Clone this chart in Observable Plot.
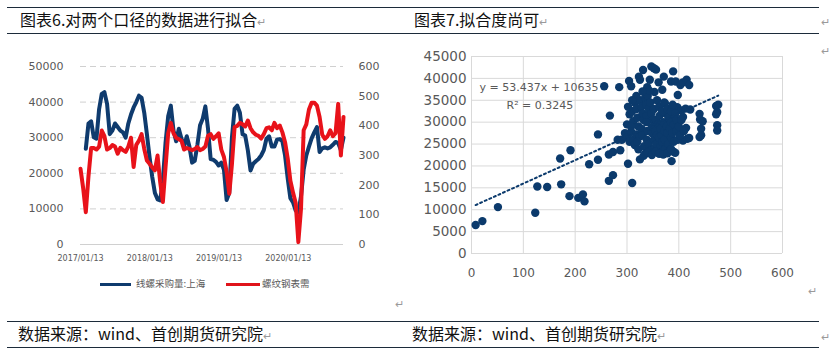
<!DOCTYPE html>
<html><head><meta charset="utf-8">
<script src="https://cdn.jsdelivr.net/npm/d3@7"></script>
<script src="https://cdn.jsdelivr.net/npm/@observablehq/plot@0.6"></script>
<style>
html,body{margin:0;padding:0;background:#fff;}
#page{position:relative;width:832px;height:352px;overflow:hidden;font-family:"Noto Sans CJK SC",sans-serif;}
.hline{position:absolute;height:0;border-top:1.5px solid #1c2b3a;}
.title{position:absolute;font-size:16px;color:#111;white-space:nowrap;line-height:1;}
.pm{color:#9a9a9a;font-size:11px;}
.abs{position:absolute;}
.leg{position:absolute;font-size:9.5px;color:#595959;white-space:nowrap;line-height:1;}
.legline{position:absolute;height:3px;}
</style></head>
<body><div id="page">
<div class="hline" style="left:7px;top:7px;width:812px"></div>
<div class="hline" style="left:7px;top:33px;width:812px"></div>
<div class="title" style="left:20px;top:11px">图表6.对两个口径的数据进行拟合<span class="pm">↵</span></div>
<div class="title" style="left:414px;top:11px">图表7.拟合度尚可<span class="pm">↵</span></div>
<div class="abs pm" style="left:821px;top:13px">↵</div>
<div class="abs pm" style="left:821px;top:42px">↵</div>
<div id="left" class="abs" style="left:0;top:50px"></div>
<div id="right" class="abs" style="left:416px;top:40px"></div>
<div class="legline" style="left:100px;top:283px;width:31px;background:#0f3b6e"></div>
<div class="leg" style="left:136px;top:279px">线螺采购量:上海</div>
<div class="legline" style="left:226px;top:283px;width:34px;background:#e0141b"></div>
<div class="leg" style="left:262px;top:279px">螺纹钢表需</div>
<div class="abs pm" style="left:395px;top:295px">↵</div>
<div class="abs pm" style="left:808px;top:282px">↵</div>
<div class="hline" style="left:7px;top:321px;width:812px"></div>
<div class="hline" style="left:7px;top:347px;width:812px"></div>
<div class="title" style="left:18px;top:325px">数据来源：wind、首创期货研究院<span class="pm">↵</span></div>
<div class="title" style="left:412px;top:325px">数据来源：wind、首创期货研究院<span class="pm">↵</span></div>
<div class="abs pm" style="left:821px;top:328px">↵</div>
</div>
<script>
// ---------- Left chart data ----------
const dates = [
"2017-01-13","2017-01-27","2017-02-10","2017-02-24","2017-03-10","2017-03-24","2017-04-07","2017-04-21","2017-05-05","2017-05-19",
"2017-06-02","2017-06-16","2017-06-30","2017-07-14","2017-07-28","2017-08-11","2017-08-25","2017-09-08","2017-09-22","2017-10-06",
"2017-10-20","2017-11-03","2017-11-17","2017-12-01","2017-12-15","2017-12-29","2018-01-12","2018-01-26","2018-02-09","2018-02-23",
"2018-03-09","2018-03-23","2018-04-06","2018-04-20","2018-05-04","2018-05-18","2018-06-01","2018-06-15","2018-06-29","2018-07-13",
"2018-07-27","2018-08-10","2018-08-24","2018-09-07","2018-09-21","2018-10-05","2018-10-19","2018-11-02","2018-11-16","2018-11-30",
"2018-12-14","2018-12-28","2019-01-11","2019-01-25","2019-02-08","2019-02-22","2019-03-08","2019-03-22","2019-04-05","2019-04-19",
"2019-05-03","2019-05-17","2019-05-31","2019-06-14","2019-06-28","2019-07-12","2019-07-26","2019-08-09","2019-08-23","2019-09-06",
"2019-09-20","2019-10-04","2019-10-18","2019-11-01","2019-11-15","2019-11-29","2019-12-13","2019-12-27","2020-01-10","2020-01-24",
"2020-02-07","2020-02-21","2020-03-06","2020-03-20","2020-04-03","2020-04-17","2020-05-01","2020-05-15","2020-05-29","2020-06-12",
"2020-06-26","2020-07-10","2020-07-24","2020-08-07","2020-08-21","2020-09-04","2020-09-18","2020-10-02","2020-10-16","2020-10-30"];
// 线螺采购量:上海 (left axis)
const wirePurchase = [
null,null,26900,34000,34600,30100,29700,38000,42300,42800,
39500,31000,32000,34000,33000,32000,31500,30000,34000,36500,
38500,40000,41800,41200,37000,31000,24500,19000,14500,12700,
12400,18000,28500,36000,39000,32000,29000,32500,29800,27500,
30400,27500,23000,23500,28000,33500,35300,38800,32500,24000,
23800,23200,22200,23000,21000,12500,14500,30100,38100,39000,
37000,31000,30600,26400,20800,22700,23400,24000,25000,26500,
29700,30400,27500,27500,29500,29600,29000,25000,18500,13000,
11800,9500,9000,13500,21000,25000,27500,29800,31500,33000,
26000,27000,27300,27000,27300,28000,28800,28500,26500,30000];
// 螺纹钢表需 (right axis)
const rebarDemand = [
255,190,109,230,325,325,320,330,384,365,
320,325,335,330,306,326,318,312,330,360,
261,336,350,372,322,283,272,260,250,300,
210,143,260,375,410,375,360,355,350,320,
325,322,318,322,328,318,322,330,367,372,
356,365,375,320,295,245,171,270,396,400,
410,405,398,418,392,378,370,366,357,372,
392,395,385,410,392,401,378,345,290,215,
175,140,8,120,385,405,455,478,478,468,
430,370,356,365,385,365,375,474,300,430];
const leftTicks = [0,10000,20000,30000,40000,50000];
const rightTicks = [0,100,200,300,400,500,600];
const dateTickLabels = ["2017/01/13","2018/01/13","2019/01/13","2020/01/13"];

// ---------- Right chart data ----------
const scatterX = [8,21,51,123,127,146,171,173,189,191,206,215,218,227,244,244,256,265,273,267,
265,273,285,287,282,290,302,310,304,308,323,325,331,339,344,347,352,356,353,361,
368,371,373,385,389,394,398,403,408,415,420,386,389,397,405,413,422,414,408,416,
420,408,440,441,443,443,446,440,472,474,472,474,474,476,
300,305,310,312,315,318,320,322,325,328,330,332,335,337,338,340,342,345,347,350,
296,300,305,308,312,315,318,320,322,325,328,330,333,335,338,340,342,345,348,350,
352,353,355,356,357,358,360,360,362,363,365,365,367,368,370,370,372,373,375,375,
377,378,380,380,382,383,385,385,388,390,390,392,393,395,396,398,400,402,405,410,
325,332,340,348,355,362,370,378,385,343,338,352,358,362,368,372,378,385,388,393,318,330,310,302,308];
const scatterY = [6500,7400,10600,9300,15300,15200,21700,15800,13100,23600,12700,13500,11900,20400,21400,27200,38200,16600,17900,31500,
22600,23200,38000,23600,26000,26000,20500,16100,39400,38200,40400,39700,41900,38000,39700,42700,42300,42000,36900,39100,
37400,40400,34300,39300,41600,39300,36200,38500,39100,39700,38500,21100,23300,33400,32700,33100,32900,28700,25800,26200,
26400,31200,31900,30600,28500,27000,30200,26600,33700,32300,31800,29300,28100,34000,
29500,31800,32500,30200,34500,33000,31000,29000,35000,33500,32000,30500,35500,34000,31500,36000,33000,34500,32000,30500,
27500,26500,25500,27800,26000,24800,27200,25500,23800,26800,28500,27000,24500,22800,26000,28000,25000,23500,27500,29000,
26000,24000,28000,30500,25000,27000,23000,29500,26500,31500,24500,28500,27000,25500,30000,23500,28000,26000,32000,24000,
29000,27500,25000,31000,23500,28500,26500,30000,27500,29500,25500,31500,23000,28000,30500,26000,29000,27000,30500,28000,
21500,22300,23000,22500,23300,22800,22600,22900,23800,37200,30000,33000,35000,33500,32500,34500,33000,32500,34000,32000,36000,37000,35000,33500,29000];
const slope = 53.437, intercept = 10635, r2 = "0.3245";
const xTicksR = [0,100,200,300,400,500,600];
const yTicksR = [0,5000,10000,15000,20000,25000,30000,35000,40000,45000];

// ---------- Left chart ----------
const parse = d3.utcParse("%Y-%m-%d");
const parseSlash = d3.utcParse("%Y/%m/%d");
const ratio = 50000/600;
const blueData = dates.map((d,i)=>({date:parse(d), v:wirePurchase[i]})).filter(d=>d.v!=null);
const redData = dates.map((d,i)=>({date:parse(d), v:rebarDemand[i]}));
const navy = "#0f3b6e", red = "#e8121a";

const left = Plot.plot({
  width: 400, height: 216,
  marginLeft: 80, marginRight: 57, marginTop: 16, marginBottom: 22,
  style: {fontFamily: "DejaVu Sans", color: "#595959", background: "transparent"},
  x: {type: "utc", domain: [parse(dates[0]), parse(dates[dates.length-1])]},
  y: {domain: [0, 50000]},
  marks: [
    Plot.gridY(leftTicks.slice(1), {stroke: "#d0d0d0", strokeOpacity: 1, strokeDasharray: "6,4"}),
    Plot.ruleY([0], {stroke: "#d0d0d0"}),
    Plot.axisY(leftTicks, {anchor: "left", tickSize: 0, tickPadding: 17, fontSize: 11, label: null, tickFormat: d => String(d)}),
    Plot.axisY(rightTicks.map(v => v*ratio), {anchor: "right", tickSize: 0, tickPadding: 15, fontSize: 11, label: null, tickFormat: d => String(Math.round(d/ratio))}),
    Plot.axisX(dateTickLabels.map(parseSlash), {tickSize: 0, tickPadding: 11, fontSize: 8, label: null, tickFormat: d3.utcFormat("%Y/%m/%d")}),
    Plot.line(blueData, {x: "date", y: "v", stroke: navy, strokeWidth: 4, strokeLinejoin: "round"}),
    Plot.line(redData, {x: "date", y: d => d.v*ratio, stroke: red, strokeWidth: 4, strokeLinejoin: "round"})
  ]
});
document.getElementById("left").appendChild(left);

// ---------- Right chart ----------
const pts = scatterX.map((x,i)=>({x, y: scatterY[i]}));
const xExt = d3.extent(scatterX);
const trend = xExt.map(x => ({x, y: slope*x + intercept}));
const right = Plot.plot({
  width: 390, height: 241,
  marginLeft: 55, marginRight: 24, marginTop: 16, marginBottom: 28,
  style: {fontFamily: "DejaVu Sans", color: "#595959", background: "transparent"},
  x: {domain: [0, 600]},
  y: {domain: [0, 45000]},
  marks: [
    Plot.gridX(xTicksR, {stroke: "#d9d9d9", strokeOpacity: 1}),
    Plot.gridY(yTicksR, {stroke: "#d9d9d9", strokeOpacity: 1}),
    Plot.axisY(yTicksR, {tickSize: 0, tickPadding: 5, fontSize: 13.5, label: null, tickFormat: d => String(d)}),
    Plot.axisX(xTicksR, {tickSize: 0, tickPadding: 15, fontSize: 12, label: null, tickFormat: d => String(d)}),
    Plot.dot(pts, {x: "x", y: "y", r: 4.2, fill: "#0b3a6c", stroke: "none"}),
    Plot.text([`y = ${slope}x + ${intercept}`], {frameAnchor: "top-left", dx: 8, dy: 27, text: d => d, fontSize: 11, fill: "#595959", textAnchor: "start"}),
    Plot.text([`R² = ${r2}`], {frameAnchor: "top-left", dx: 35, dy: 45, text: d => d, fontSize: 11, fill: "#595959", textAnchor: "start"}),
    Plot.line(trend, {x: "x", y: "y", stroke: "#0b3a6c", strokeWidth: 2, strokeDasharray: "2,3"})
  ]
});
document.getElementById("right").appendChild(right);
</script>
</body></html>
